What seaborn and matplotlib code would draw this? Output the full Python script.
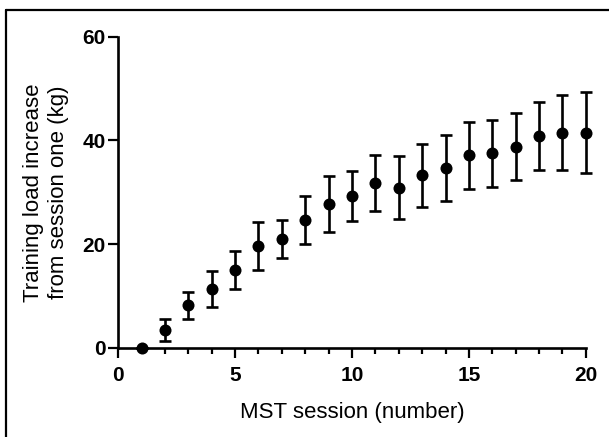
import matplotlib
matplotlib.use('Agg')
import matplotlib.pyplot as plt
import pandas as pd
import seaborn as sns
from matplotlib.lines import Line2D
from matplotlib.ticker import MultipleLocator

sns.set_style('ticks')
plt.rcParams['font.family'] = ['Liberation Sans', 'DejaVu Sans']
plt.rcParams['text.color'] = 'black'
plt.rcParams['axes.labelcolor'] = 'black'
plt.rcParams['xtick.color'] = 'black'
plt.rcParams['ytick.color'] = 'black'

# Mean training load increase (kg) and SD per MST session
sessions = list(range(1, 21))
load_mean = [0.0, 3.4, 8.2, 11.3, 15.0, 19.7, 21.0, 24.6, 27.7, 29.3,
             31.8, 30.9, 33.3, 34.6, 37.1, 37.5, 38.8, 40.8, 41.5, 41.5]
load_sd = [0.0, 2.1, 2.65, 3.5, 3.65, 4.65, 3.6, 4.6, 5.35, 4.85,
           5.4, 6.1, 6.05, 6.35, 6.5, 6.4, 6.4, 6.6, 7.2, 7.8]

df = pd.DataFrame({'session': sessions, 'load': load_mean, 'sd': load_sd})

fig = plt.figure(figsize=(6.09, 4.37), dpi=100)
ax = fig.add_axes([0.194, 0.204, 0.768, 0.712])

ax.errorbar(df['session'], df['load'], yerr=df['sd'], fmt='none',
            ecolor='black', elinewidth=1.9, capsize=4.5, capthick=1.9,
            clip_on=False, zorder=2)
sns.scatterplot(data=df, x='session', y='load', ax=ax, color='black',
                s=75, edgecolor='black', linewidth=0, clip_on=False, zorder=3)

ax.set_xlim(0, 20)
ax.set_ylim(0, 60)
ax.set_xticks([0, 5, 10, 15, 20])
ax.xaxis.set_minor_locator(MultipleLocator(1))
ax.set_yticks([0, 20, 40, 60])

for lab in ax.get_xticklabels() + ax.get_yticklabels():
    lab.set_fontweight('bold')
ax.tick_params(axis='both', which='major', labelsize=15, width=1.6,
               length=7, color='black', pad=2)
ax.tick_params(axis='x', which='major', pad=6)
ax.tick_params(axis='x', which='minor', width=1.6, length=4.5, color='black')

sns.despine(ax=ax)
for side in ['left', 'bottom']:
    ax.spines[side].set_linewidth(1.9)
    ax.spines[side].set_color('black')

ax.set_xlabel('MST session (number)', fontsize=16, labelpad=12)
ax.set_ylabel('Training load increase\nfrom session one (kg)', fontsize=16,
              labelpad=10, linespacing=1.2)

# partial frame around the figure (top and left edges)
fig.add_artist(Line2D([6 / 609, 1], [1 - 10 / 437, 1 - 10 / 437],
                      transform=fig.transFigure, color='black', linewidth=1.6))
fig.add_artist(Line2D([6 / 609, 6 / 609], [0, 1 - 10 / 437],
                      transform=fig.transFigure, color='black', linewidth=1.6))

fig.savefig('out.png', dpi=100)
